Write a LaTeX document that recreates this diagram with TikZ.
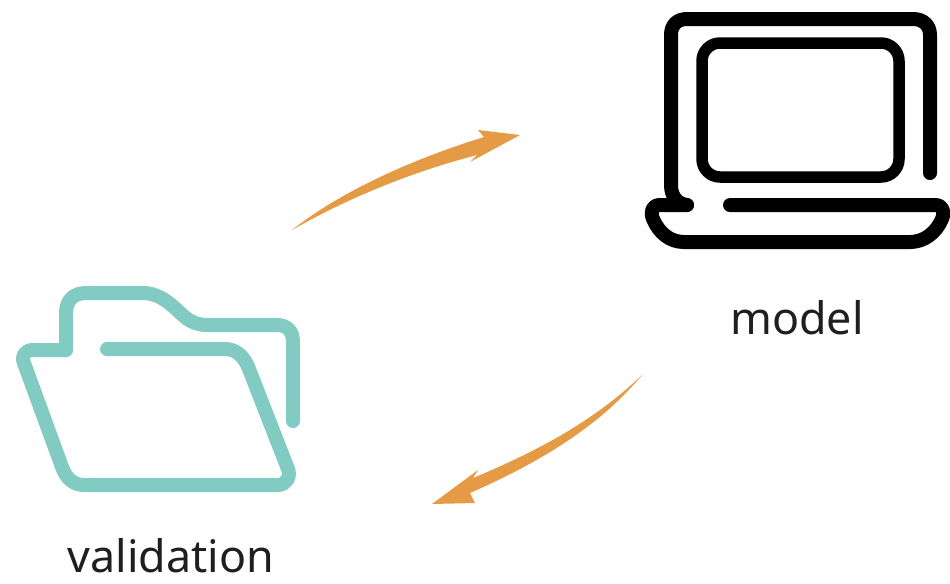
\documentclass[tikz,border=0pt]{standalone}
\usepackage{fontspec}
\setmainfont{Noto Sans}
\usetikzlibrary{positioning}
\definecolor{foldercolor}{HTML}{82CBC2}
\definecolor{arrowcolor}{HTML}{E59A45}
\tikzset{caption/.style={font=\fontsize{25.5}{28}\selectfont, text=black!88, inner sep=0pt}}
\tikzset{icon/.style={line cap=round, line join=round}}

\begin{document}
\begin{tikzpicture}[x=0.02cm, y=-0.02cm,
    folder/.style={icon, draw=foldercolor, line width=0.28cm},
    laptop/.style={icon, draw=black, line width=0.28cm},
    curved/.style={fill=arrowcolor, draw=none},
    ]
    \useasboundingbox (0,0) rectangle (950,583);

    % Back of the folder
    \draw [folder] (293,421) -- (293,342) .. controls (293,331) and (287,325) .. (277,325)
        -- (207,325) .. controls (190,325) and (183,315) .. (175,308)
        .. controls (165,299) and (155,293) .. (143,293) -- (86,293)
        .. controls (74,293) and (66,300) .. (66,313) -- (66,350);

    % Front of the folder
    \draw [folder] (66,350) -- (33,350) .. controls (25,350) and (21,356) .. (24,363)
        -- (62,467) .. controls (66,478) and (73,485) .. (84,485) -- (278,485)
        .. controls (286,485) and (291,477) .. (288,469) -- (249,369)
        .. controls (244,356) and (236,349) .. (225,349) -- (107,349);

    % Laptop lid
    \draw [laptop] (930,173) -- (930,35) .. controls (930,25) and (923,19) .. (913,19)
        -- (687,19) .. controls (677,19) and (671,25) .. (671,35) -- (671,185)
        .. controls (671,196) and (677,204) .. (687,205);

    % Laptop screen
    \draw [laptop, line width=0.23cm, rounded corners=0.36cm] (702,43) rectangle (899,177);

    % Laptop base
    \draw [laptop] (687,205) -- (660,205) .. controls (652,205) and (650,212) .. (653,219)
        .. controls (659,233) and (670,242) .. (684,242) -- (910,242)
        .. controls (924,242) and (936,233) .. (942,219)
        .. controls (945,212) and (943,205) .. (935,205) -- (730,205);

    % Labels
    \node [caption] (model) at (797,318) {model};
    \node [caption] (validation) at (171,556) {validation};

    % Ends of the arrows
    \coordinate (upstart) at (292,230);
    \coordinate (uptip) at (520,135);
    \coordinate (downstart) at (642,375);
    \coordinate (downtip) at (432,504);

    % Arrow to the model
    \fill [curved] (upstart) .. controls (340,192) and (410,160) .. (484,137)
        -- (478,130) -- (uptip) -- (470,162) -- (477,155)
        .. controls (412,172) and (350,197) .. (upstart) -- cycle;

    % Arrow to the validation set
    \fill [curved] (downstart) .. controls (600,415) and (550,446) .. (473,478)
        -- (478,470) -- (downtip) -- (475,503) -- (470,493)
        .. controls (550,458) and (605,420) .. (downstart) -- cycle;

\end{tikzpicture}
\end{document}
